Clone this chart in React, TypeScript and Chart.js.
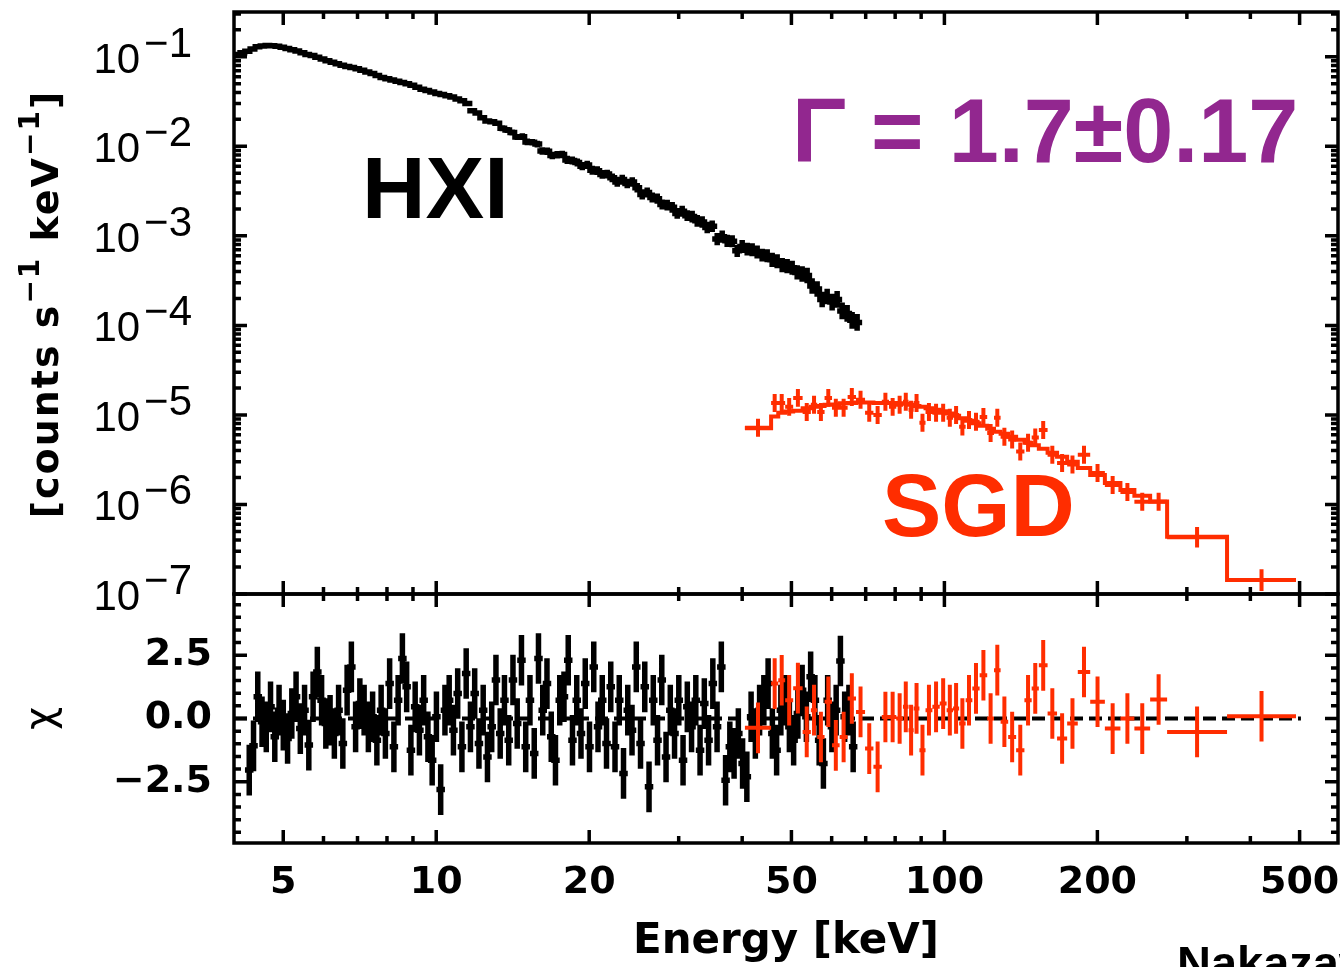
import React, { useEffect, useRef } from "react";
import { Chart, registerables } from "chart.js";

Chart.register(...registerables);

// ---------------- data ----------------
// HXI spectrum (HXI1+HXI2 interleaved): bin centres [keV]
const hxiEnergy = [
  4.06, 4.15,
  4.25, 4.35, 4.45, 4.55, 4.65, 4.76, 4.87, 4.98, 5.09, 5.21,
  5.33, 5.45, 5.58, 5.7, 5.84, 5.97, 6.11, 6.25, 6.39, 6.53,
  6.68, 6.84, 6.99, 7.15, 7.32, 7.49, 7.66, 7.83, 8.01, 8.2,
  8.38, 8.58, 8.77, 8.97, 9.18, 9.39, 9.6, 9.82, 10.05, 10.28,
  10.51, 10.76, 11.0, 11.25, 11.51, 11.78, 12.04, 12.32, 12.6, 12.89,
  13.19, 13.49, 13.8, 14.11, 14.44, 14.77, 15.11, 15.45, 15.81, 16.17,
  16.54, 16.92, 17.3, 17.7, 18.11, 18.52, 18.95, 19.38, 19.82, 20.28,
  20.74, 21.22, 21.7, 22.2, 22.71, 23.23, 23.76, 24.31, 24.86, 25.43,
  26.01, 26.61, 27.22, 27.84, 28.48, 29.13, 29.8, 30.48, 31.18, 31.89,
  32.63, 33.37, 34.14, 34.92, 35.72, 36.54, 37.37, 38.23, 39.11, 40.0,
  40.92, 41.85, 42.81, 43.79, 44.8, 45.82, 46.87, 47.95, 49.04, 50.17,
  51.32, 52.49, 53.69, 54.92, 56.18, 57.47, 58.79, 60.13, 61.51, 62.92,
  64.36, 65.83, 67.34,
];
// HXI rate [counts s^-1 keV^-1]
const hxiFlux = [
  0.106, 0.111, 0.115, 0.122, 0.129, 0.132, 0.134, 0.133, 0.131, 0.128,
  0.124, 0.12, 0.116, 0.111, 0.106, 0.103, 0.099, 0.0945, 0.0905, 0.0866,
  0.0835, 0.0805, 0.0779, 0.0757, 0.0734, 0.0707, 0.0678, 0.0649, 0.0618, 0.0588,
  0.0568, 0.055, 0.0534, 0.0516, 0.0501, 0.048, 0.0457, 0.0435, 0.0419, 0.0403,
  0.0389, 0.0379, 0.0368, 0.0355, 0.0338, 0.0322, 0.03, 0.0249, 0.0235, 0.0208,
  0.0192, 0.0188, 0.0181, 0.0159, 0.0152, 0.0143, 0.0127, 0.0128, 0.0112, 0.0111,
  0.0106, 0.00885, 0.0088, 0.0079, 0.00805, 0.0081, 0.00705, 0.00695, 0.0066, 0.006,
  0.0062, 0.0054, 0.00535, 0.00485, 0.0049, 0.00445, 0.004, 0.00425, 0.00385, 0.004,
  0.00345, 0.0029, 0.00305, 0.00268, 0.0026, 0.00224, 0.0022, 0.00208, 0.00178, 0.00188,
  0.00168, 0.00164, 0.00147, 0.00143, 0.00124, 0.00128, 0.00092, 0.00098, 0.00088, 0.00087,
  0.00068, 0.00076, 0.00071, 0.0007, 0.00066, 0.00061, 0.0006, 0.00054, 0.00052, 0.00047,
  0.00046, 0.00044, 0.00039, 0.000375, 0.00036, 0.000275, 0.000255, 0.000195, 0.00021, 0.000182,
  0.000195, 0.000145, 0.000136, 0.000114, 0.000108,
];
// HXI 1-sigma errors (fractional)
const hxiFluxErr = [
  0.045, 0.045, 0.045, 0.045, 0.045, 0.045, 0.045, 0.045, 0.045, 0.045,
  0.045, 0.045, 0.045, 0.045, 0.045, 0.045, 0.045, 0.045, 0.045, 0.045,
  0.045, 0.045, 0.045, 0.045, 0.045, 0.045, 0.045, 0.045, 0.045, 0.045,
  0.045, 0.045, 0.045, 0.045, 0.045, 0.045, 0.045, 0.045, 0.045, 0.045,
  0.045, 0.045, 0.045, 0.045, 0.045, 0.045, 0.06, 0.06, 0.06, 0.07,
  0.07, 0.07, 0.07, 0.08, 0.08, 0.08, 0.08, 0.09, 0.09, 0.09,
  0.09, 0.1, 0.1, 0.1, 0.1, 0.1, 0.11, 0.11, 0.11, 0.11,
  0.11, 0.12, 0.12, 0.12, 0.12, 0.12, 0.13, 0.13, 0.13, 0.13,
  0.13, 0.14, 0.14, 0.14, 0.14, 0.14, 0.15, 0.15, 0.15, 0.15,
  0.15, 0.16, 0.16, 0.16, 0.16, 0.16, 0.17, 0.17, 0.17, 0.17,
  0.17, 0.18, 0.18, 0.18, 0.18, 0.18, 0.18, 0.2, 0.2, 0.2,
  0.2, 0.2, 0.2, 0.22, 0.22, 0.22, 0.22, 0.22, 0.22, 0.24,
  0.24, 0.24, 0.24, 0.24, 0.24,
];
// HXI residual bins [keV] and residuals (chi)
const hxiResEnergy = [
  4.286, 4.37, 4.455, 4.542, 4.63, 4.72, 4.812, 4.906, 5.001, 5.099,
  5.198, 5.299, 5.402, 5.507, 5.614, 5.724, 5.835, 5.949, 6.064, 6.182,
  6.303, 6.425, 6.55, 6.678, 6.808, 6.94, 7.075, 7.213, 7.353, 7.496,
  7.642, 7.791, 7.943, 8.097, 8.255, 8.415, 8.579, 8.746, 8.916, 9.09,
  9.267, 9.447, 9.631, 9.818, 10.009, 10.204, 10.403, 10.605, 10.811, 11.021,
  11.235, 11.454, 11.677, 11.904, 12.136, 12.372, 12.613, 12.858, 13.108, 13.363,
  13.623, 13.888, 14.158, 14.433, 14.714, 15.0, 15.292, 15.59, 15.893, 16.202,
  16.517, 16.839, 17.166, 17.5, 17.84, 18.187, 18.541, 18.902, 19.27, 19.645,
  20.027, 20.417, 20.814, 21.219, 21.631, 22.052, 22.481, 22.918, 23.364, 23.819,
  24.282, 24.755, 25.236, 25.727, 26.228, 26.738, 27.258, 27.788, 28.329, 28.88,
  29.442, 30.015, 30.599, 31.194, 31.801, 32.42, 33.051, 33.694, 34.35, 35.018,
  35.699, 36.394, 37.102, 37.824, 38.56, 39.31, 40.075, 40.855, 41.65, 42.46,
  43.286, 44.128, 44.987, 45.862, 46.755, 47.665, 48.592, 49.538, 50.501, 51.484,
  52.486, 53.507, 54.548, 55.61, 56.692, 57.795, 58.919, 60.066, 61.235, 62.426,
  63.641, 64.879, 66.141,
];
const hxiChi = [
  -2.04, -1.08, 0.86, -0.13, -0.33, 0.46, -0.72, 0.33, -0.26, -0.79,
  0.2, 0.86, -0.4, 0.33, -1.05, 0.86, 1.84, 0.72, -0.2, -0.07,
  -0.59, 0.33, -0.99, 1.12, 2.04, -0.33, 0.59, 0.33, -0.33, 0.07,
  -0.86, 0.33, -0.59, 1.38, -1.12, 0.72, 2.37, 1.25, -1.25, 0.46,
  -0.46, 0.72, -0.72, -1.65, 0.07, -2.81, 0.33, 0.72, -0.46, 0.99,
  -1.12, 1.78, -0.33, 0.99, -0.99, 0.33, -1.52, -0.33, 1.52, -0.59,
  0.72, -0.86, 1.52, -0.2, 2.3, -1.12, 0.72, -1.38, 2.37, 0.33,
  1.38, -0.72, -1.65, 0.72, 0.86, 2.3, -0.86, 0.72, -0.59, 1.38,
  -1.12, 2.04, -0.33, 0.72, -0.99, 1.25, -1.12, 0.72, -2.17, 0.33,
  -0.46, 2.04, -0.99, 1.25, -2.7, 0.72, -0.86, 1.52, -1.52, 0.33,
  -0.59, 0.72, -1.65, 0.46, -0.33, 0.72, -1.25, 0.59, -0.86, 1.38,
  -0.33, 2.04, -2.44, -1.12, -1.38, -0.59, -1.78, -2.3, 0.07, -0.59,
  0.33, 0.72, 1.38, -0.59, -1.25, 0.33, 0.72, -0.33, -0.86, 0.2,
  1.12, 0.07, 1.65, 0.72, -0.86, -1.78, 0.72, -0.33, 0.33, 2.27,
  0.07, 0.33, -1.12,
];

// SGD spectrum: bin edges [keV]
const sgdEdges = [
  40.5, 45.6, 47.1, 48.6, 50.4, 52.6, 54.6, 56.2, 58.1, 60.1,
  62.2, 64.5, 67.0, 69.8, 72.5, 75.3, 77.8, 80.4, 82.9, 85.0,
  87.0, 89.3, 91.8, 94.7, 97.9, 101.0, 104.0, 106.9, 110.1, 113.5,
  117.3, 121.4, 125.2, 129.0, 133.5, 138.4, 143.7, 148.5, 153.4, 159.6,
  166.6, 174.4, 183.0, 193.6, 206.9, 222.0, 236.5, 254.0, 274.3, 359.9,
  491.9,
];
const sgdFlux = [
  7.2e-6, 1.36e-5, 1.36e-5, 1.23e-5, 1.55e-5, 1.08e-5, 1.3e-5, 1.08e-5, 1.55e-5, 1.2e-5,
  1.2e-5, 1.59e-5, 1.48e-5, 1.06e-5, 1.0e-5, 1.4e-5, 1.23e-5, 1.3e-5, 1.4e-5, 1.14e-5,
  1.36e-5, 8.2e-6, 1.08e-5, 1.06e-5, 1.06e-5, 9.3e-6, 1.0e-5, 7.4e-6, 8.8e-6, 8.4e-6,
  9.5e-6, 6.3e-6, 9.3e-6, 5.7e-6, 5.3e-6, 3.9e-6, 4.9e-6, 5.6e-6, 6.8e-6, 3.6e-6,
  2.9e-6, 2.8e-6, 3.6e-6, 2.25e-6, 1.65e-6, 1.38e-6, 1.07e-6, 1.07e-6, 4.3e-7, 1.43e-7,
];
const sgdFluxErr = [
  0.26, 0.26, 0.26, 0.26, 0.26, 0.26, 0.26, 0.26, 0.26, 0.26,
  0.26, 0.26, 0.26, 0.26, 0.26, 0.26, 0.26, 0.26, 0.26, 0.26,
  0.26, 0.26, 0.26, 0.26, 0.26, 0.26, 0.26, 0.26, 0.26, 0.26,
  0.26, 0.26, 0.26, 0.26, 0.26, 0.26, 0.26, 0.26, 0.26, 0.26,
  0.26, 0.26, 0.26, 0.26, 0.26, 0.26, 0.26, 0.26, 0.3, 0.32,
];
const sgdModel = [
  7.1e-6, 9.6e-6, 1.06e-5, 1.09e-5, 1.11e-5, 1.19e-5, 1.23e-5, 1.26e-5, 1.3e-5, 1.31e-5,
  1.35e-5, 1.36e-5, 1.38e-5, 1.38e-5, 1.36e-5, 1.36e-5, 1.355e-5, 1.35e-5, 1.33e-5, 1.3e-5,
  1.26e-5, 1.23e-5, 1.19e-5, 1.14e-5, 1.1e-5, 1.04e-5, 9.8e-6, 9.2e-6, 8.6e-6, 8.05e-6,
  7.55e-6, 7.0e-6, 6.5e-6, 6.15e-6, 5.7e-6, 5.27e-6, 4.88e-6, 4.57e-6, 4.18e-6, 3.77e-6,
  3.4e-6, 3.0e-6, 2.56e-6, 2.14e-6, 1.74e-6, 1.45e-6, 1.25e-6, 1.08e-6, 4.37e-7, 1.43e-7,
];
const sgdChi = [
  -0.37, 1.38, 1.51, 0.72, 1.2, -0.53, 0.33, -0.73, 0.66, -1.06,
  -0.73, 0.79, 0.26, -1.19, -1.91, 0.06, 0.06, 0.0, 0.46, -0.46,
  0.4, -1.25, 0.33, 0.46, 0.59, 0.33, 0.4, -0.2, 0.72, 1.19,
  1.71, 0.0, 1.91, -0.13, -0.73, -1.25, 0.72, 1.19, 2.1, 0.2,
  -0.79, -0.2, 1.84, 0.66, -0.4, 0.0, -0.4, 0.75, -0.53, 0.09,
];

// axes
const xMin = 4.0;
const xMax = 595;
const specMin = 1e-7;
const specMax = 0.3162;
const chiMin = -4.92;
const chiMax = 4.92;
const xMajorTicks = [5, 10, 20, 50, 100, 200, 500];
const xMinorTicks = [6, 7, 8, 9, 30, 40, 60, 70, 80, 90, 300, 400];
const specDecades = [-7, -6, -5, -4, -3, -2, -1];
const chiMajorTicks = [-2.5, 0, 2.5];
const chiMinorTicks = [-4.5, -4, -3.5, -3, -2, -1.5, -1, -0.5, 0.5, 1, 1.5, 2, 3, 3.5, 4, 4.5];
const zeroLineX = [4.0, 503];

// ---------------- styling / layout ----------------
const W = 1340;
const H = 967;
const PLOT_LEFT = 234;
const PLOT_RIGHT_PAD = 2;
const PLOT_TOP = 12;
const PANEL_SPLIT = 594;
const X_AXIS_H = 124;
const RED = "#ff2d00";
const PURPLE = "#92278f";
const LIB = '"Liberation Sans", Arial, sans-serif';
const DV = '"DejaVu Sans", sans-serif';
const LW = 3.5;
const MAJ = 13;
const MIN = 7;

type Pt = { x: number; y: number | null };

function crossPoints(
  xc: number[], xlo: number[], xhi: number[],
  yc: (number | null)[], ylo: number[], yhi: number[]
): Pt[] {
  const pts: Pt[] = [];
  for (let i = 0; i < xc.length; i++) {
    const y = yc[i];
    if (y === null || y === undefined) continue;
    pts.push({ x: xlo[i], y }, { x: xhi[i], y }, { x: xc[i], y: null });
    pts.push({ x: xc[i], y: ylo[i] }, { x: xc[i], y: yhi[i] }, { x: xc[i], y: null });
  }
  return pts;
}

// two interleaved detectors: each bin spans from the previous to the next centre
function interleavedEdges(c: number[]) {
  const n = c.length;
  const lo = c.map((e, i) => (i > 0 ? c[i - 1] : (e * e) / c[1]));
  const hi = c.map((e, i) => (i < n - 1 ? c[i + 1] : (e * e) / c[i - 1]));
  return { lo, hi };
}

function buildData() {
  const h = interleavedEdges(hxiEnergy);
  const hr = interleavedEdges(hxiResEnergy);
  const sLo = sgdEdges.slice(0, -1);
  const sHi = sgdEdges.slice(1);
  const sC = sLo.map((lo, i) => Math.sqrt(lo * sHi[i]));

  const hxiSpec = crossPoints(
    hxiEnergy, h.lo, h.hi, hxiFlux,
    hxiFlux.map((f, i) => f / (1 + hxiFluxErr[i])),
    hxiFlux.map((f, i) => f * (1 + hxiFluxErr[i]))
  );
  const sgdSpec = crossPoints(
    sC, sLo, sHi, sgdFlux,
    sgdFlux.map((f, i) => f / (1 + sgdFluxErr[i])),
    sgdFlux.map((f, i) => f * (1 + sgdFluxErr[i]))
  );
  const sgdModelPts: Pt[] = [];
  sgdModel.forEach((m, i) => {
    sgdModelPts.push({ x: sLo[i], y: m }, { x: sHi[i], y: m });
  });
  const hxiRes = crossPoints(
    hxiResEnergy, hr.lo, hr.hi, hxiChi,
    hxiChi.map((c) => c - 1),
    hxiChi.map((c) => c + 1)
  );
  const sgdRes = crossPoints(
    sC, sLo, sHi, sgdChi,
    sgdChi.map((c) => c - 1),
    sgdChi.map((c) => c + 1)
  );
  const zero: Pt[] = zeroLineX.map((x) => ({ x, y: 0 }));
  return { hxiSpec, sgdSpec, sgdModelPts, hxiRes, sgdRes, zero };
}

function line(ctx: CanvasRenderingContext2D, x1: number, y1: number, x2: number, y2: number) {
  ctx.moveTo(x1, y1);
  ctx.lineTo(x2, y2);
}

function drawXTicks(chart: any) {
  const { ctx, chartArea } = chart;
  const xs = chart.scales.x;
  const { top, bottom } = chartArea;
  const each = (vals: number[], len: number) => {
    for (const v of vals) {
      const p = xs.getPixelForValue(v);
      line(ctx, p, top, p, top + len);
      line(ctx, p, bottom, p, bottom - len);
    }
  };
  each(xMajorTicks, MAJ);
  each(xMinorTicks, MIN);
}

function drawYTicks(chart: any, major: number[], minor: number[]) {
  const { ctx, chartArea } = chart;
  const ys = chart.scales.y;
  const { left, right } = chartArea;
  const each = (vals: number[], len: number) => {
    for (const v of vals) {
      const p = ys.getPixelForValue(v);
      line(ctx, left, p, left + len, p);
      line(ctx, right, p, right - len, p);
    }
  };
  each(major, MAJ);
  each(minor, MIN);
}

const topPlugin = {
  id: "topPanelDecor",
  afterDraw(chart: any) {
    const { ctx, chartArea } = chart;
    const { left, right, top, bottom } = chartArea;
    const ys = chart.scales.y;
    ctx.save();
    ctx.strokeStyle = "#000";
    ctx.lineWidth = LW;
    ctx.beginPath();
    const majors = specDecades.map((d) => Math.pow(10, d));
    const minors: number[] = [];
    specDecades.forEach((d) => {
      for (let k = 2; k <= 9; k++) {
        const v = k * Math.pow(10, d);
        if (v < specMax) minors.push(v);
      }
    });
    drawXTicks(chart);
    drawYTicks(chart, majors, minors);
    ctx.stroke();
    ctx.strokeRect(left, top, right - left, bottom - top);

    // y tick labels 10^-n
    ctx.fillStyle = "#000";
    ctx.textBaseline = "alphabetic";
    ctx.textAlign = "right";
    specDecades.forEach((d) => {
      const p = ys.getPixelForValue(Math.pow(10, d));
      const sup = "\u2212" + String(-d);
      ctx.font = `42px ${LIB}`;
      const w = ctx.measureText(sup).width;
      ctx.fillText(sup, 192, p);
      ctx.fillText("10", 192 - w - 4, p + 16);
    });

    // y axis title
    const parts = [
      { t: "[counts s", f: `bold 38px ${DV}`, r: 0 },
      { t: "\u22121", f: `bold 28px ${DV}`, r: 19 },
      { t: " keV", f: `bold 38px ${DV}`, r: 0 },
      { t: "\u22121", f: `bold 28px ${DV}`, r: 19 },
      { t: "]", f: `bold 38px ${DV}`, r: 0 },
    ];
    (ctx as any).letterSpacing = "2px";
    let total = 0;
    const widths = parts.map((p) => {
      ctx.font = p.f;
      const w = ctx.measureText(p.t).width;
      total += w;
      return w;
    });
    ctx.save();
    ctx.translate(58, 304 + total / 2);
    ctx.rotate(-Math.PI / 2);
    ctx.textAlign = "left";
    let x = 0;
    parts.forEach((p, i) => {
      ctx.font = p.f;
      ctx.fillText(p.t, x, -p.r);
      x += widths[i];
    });
    ctx.restore();
    (ctx as any).letterSpacing = "0px";

    // annotations
    ctx.textAlign = "left";
    ctx.font = `bold 88px ${LIB}`;
    ctx.fillStyle = "#000";
    ctx.fillText("HXI", 362, 218);
    ctx.font = `bold 89px ${LIB}`;
    ctx.fillStyle = RED;
    ctx.fillText("SGD", 882, 536);
    ctx.font = `bold 90px ${LIB}`;
    ctx.fillStyle = PURPLE;
    ctx.fillText("\u0393 = 1.7\u00b10.17", 792, 162);
    ctx.restore();
  },
};

const bottomPlugin = {
  id: "bottomPanelDecor",
  afterDraw(chart: any) {
    const { ctx, chartArea } = chart;
    const { left, right, top, bottom } = chartArea;
    ctx.save();
    ctx.strokeStyle = "#000";
    ctx.lineWidth = LW;
    ctx.beginPath();
    drawXTicks(chart);
    drawYTicks(chart, chiMajorTicks, chiMinorTicks);
    ctx.stroke();
    ctx.strokeRect(left, top, right - left, bottom - top);
    ctx.fillStyle = "#000";
    ctx.textAlign = "left";
    ctx.textBaseline = "alphabetic";
    ctx.font = `bold 47px ${LIB}`;
    ctx.fillText("Nakazawa", 1177, 979);
    ctx.restore();
  },
};

export default function App() {
  const topRef = useRef<HTMLCanvasElement>(null);
  const botRef = useRef<HTMLCanvasElement>(null);

  useEffect(() => {
    const d = buildData();
    const common = {
      responsive: false,
      animation: false as const,
      devicePixelRatio: 1,
      events: [] as any[],
    };
    const topChart = new Chart(topRef.current!, {
      type: "line",
      data: {
        datasets: [
          { data: d.sgdSpec, borderColor: RED, borderWidth: 4, pointRadius: 0, spanGaps: false, order: 0 },
          { data: d.sgdModelPts, borderColor: RED, borderWidth: 4, pointRadius: 0, order: 1 },
          { data: d.hxiSpec, borderColor: "#000", borderWidth: 5.5, pointRadius: 0, spanGaps: false, order: 2 },
        ],
      },
      options: {
        ...common,
        layout: { padding: { left: PLOT_LEFT, right: PLOT_RIGHT_PAD, top: PLOT_TOP, bottom: H - PANEL_SPLIT } },
        plugins: { legend: { display: false }, tooltip: { enabled: false } },
        scales: {
          x: { type: "logarithmic", min: xMin, max: xMax, display: false },
          y: { type: "logarithmic", min: specMin, max: specMax, display: false },
        },
      } as any,
      plugins: [topPlugin],
    });

    const botChart = new Chart(botRef.current!, {
      type: "line",
      data: {
        datasets: [
          { data: d.sgdRes, borderColor: RED, borderWidth: 4, pointRadius: 0, spanGaps: false, order: 0 },
          { data: d.zero, borderColor: "#000", borderWidth: 4, borderDash: [13, 6], pointRadius: 0, order: 1 },
          { data: d.hxiRes, borderColor: "#000", borderWidth: 5.5, pointRadius: 0, spanGaps: false, order: 2 },
        ],
      },
      options: {
        ...common,
        layout: { padding: { left: 0, right: PLOT_RIGHT_PAD, top: PANEL_SPLIT, bottom: 0 } },
        plugins: { legend: { display: false }, tooltip: { enabled: false } },
        scales: {
          x: {
            type: "logarithmic",
            min: xMin,
            max: xMax,
            position: "bottom",
            afterFit: (s: any) => {
              s.height = X_AXIS_H;
              s.paddingLeft = 0;
              s.paddingRight = 0;
            },
            afterBuildTicks: (s: any) => { s.ticks = xMajorTicks.map((v) => ({ value: v })); },
            grid: { display: false, drawTicks: false },
            border: { display: false },
            ticks: {
              autoSkip: false,
              maxRotation: 0,
              padding: 17,
              color: "#000",
              font: { family: DV, size: 38, weight: "bold", lineHeight: 1.2 },
              callback: (v: any) => String(v),
            },
            title: {
              display: true,
              text: "Energy [keV]",
              color: "#000",
              font: { family: DV, size: 42, weight: "bold", lineHeight: 1.2 },
              padding: { top: 0, bottom: 0 },
            },
          },
          y: {
            type: "linear",
            min: chiMin,
            max: chiMax,
            position: "left",
            afterFit: (s: any) => {
              s.width = PLOT_LEFT;
              s.paddingTop = 0;
              s.paddingBottom = 0;
            },
            afterBuildTicks: (s: any) => { s.ticks = chiMajorTicks.map((v) => ({ value: v })); },
            grid: { display: false, drawTicks: false },
            border: { display: false },
            ticks: {
              padding: 22,
              color: "#000",
              font: { family: DV, size: 38, weight: "bold" },
              callback: (v: any) => (v < 0 ? "\u2212" + Math.abs(v).toFixed(1) : Number(v).toFixed(1)),
            },
            title: {
              display: true,
              text: "\u03c7",
              color: "#000",
              font: { family: DV, size: 40, lineHeight: 1.2 },
              padding: { top: 19, bottom: 0 },
            },
          },
        },
      } as any,
      plugins: [bottomPlugin],
    });

    return () => {
      topChart.destroy();
      botChart.destroy();
    };
  }, []);

  const canvasStyle: React.CSSProperties = { position: "absolute", left: 0, top: 0, width: W, height: H };
  return (
    <div style={{ position: "fixed", left: 0, top: 0, width: W, height: H, background: "#fff", overflow: "hidden" }}>
      <canvas ref={topRef} width={W} height={H} style={canvasStyle} />
      <canvas ref={botRef} width={W} height={H} style={canvasStyle} />
    </div>
  );
}
